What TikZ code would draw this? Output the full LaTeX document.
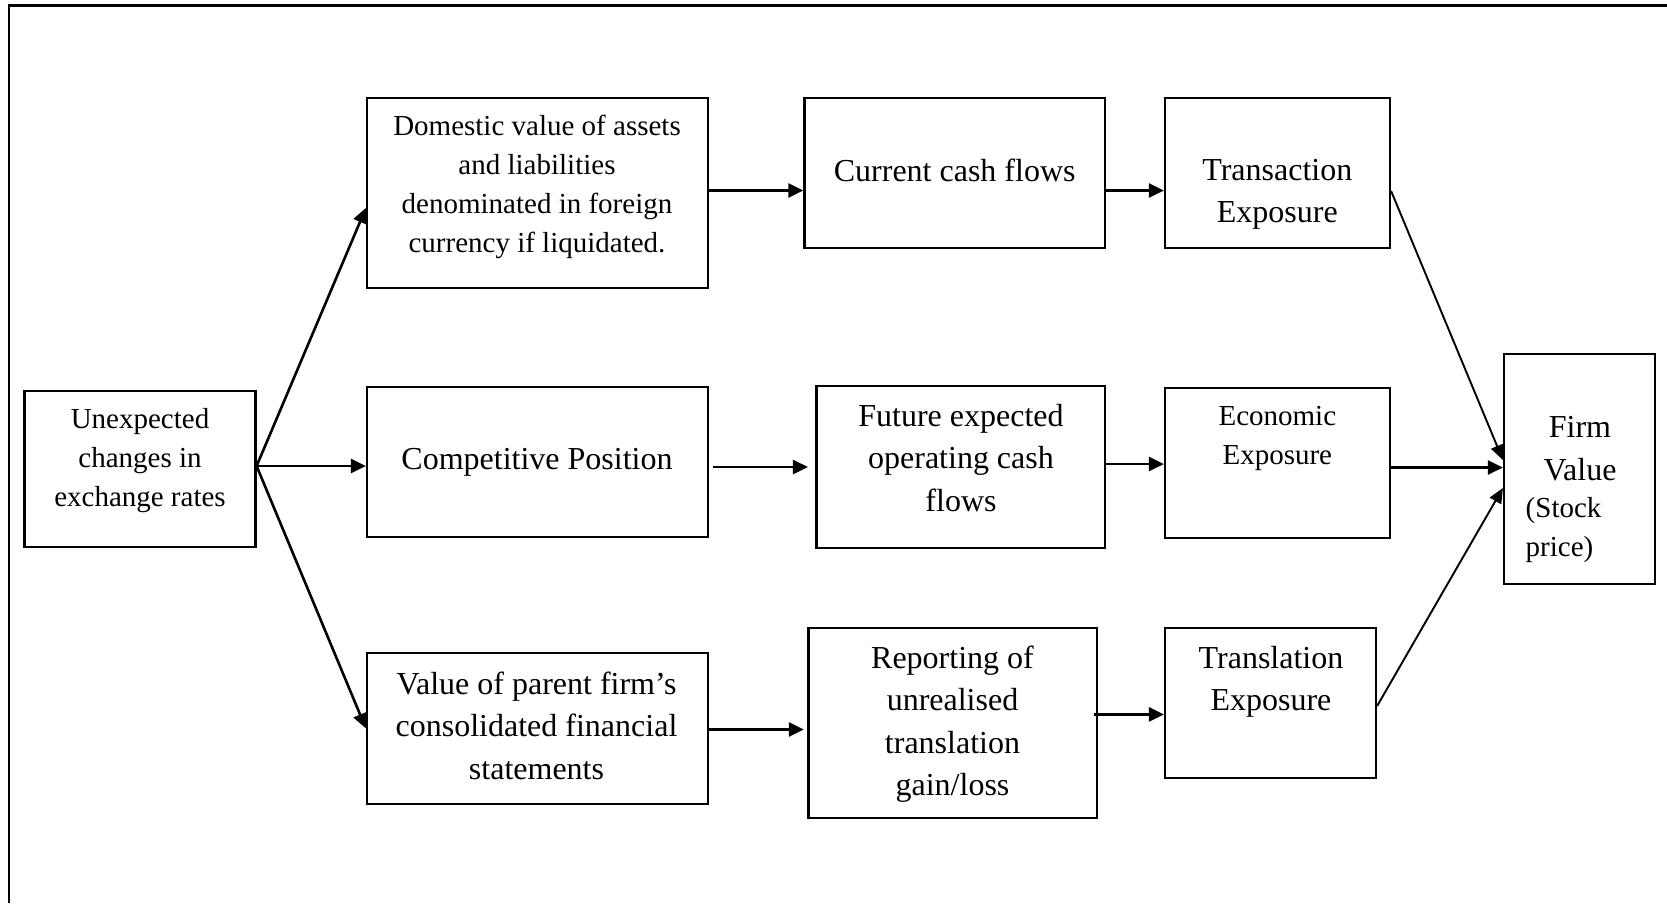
\documentclass[tikz,border=0pt]{standalone}
\usepackage{fontspec}
\setmainfont{Liberation Serif}
\usetikzlibrary{arrows.meta}
\begin{document}
\begin{tikzpicture}[x=1pt,y=-1pt,
  box/.style={draw, line width=2.2pt, inner sep=0pt},
  bigt/.style={align=center, font=\fontsize{32}{42.5}\selectfont, inner sep=0pt},
  smallt/.style={align=center, font=\fontsize{29}{39}\selectfont, inner sep=0pt},
  arr/.style={line width=2.6pt, -{Triangle[length=15pt,width=14pt]}},
  thinarr/.style={line width=1.9pt, -{Triangle[length=15pt,width=13pt]}}]
\useasboundingbox (0,0) rectangle (1667,903);
\draw[line width=2.6pt] (9,903) -- (9,5.5) -- (1667,5.5);

% boxes
\node[box, minimum width=231pt, minimum height=156pt] (unx) at (140,468.8) {};
\node[box, minimum width=341pt, minimum height=190pt] (dom) at (537.5,193) {};
\node[box, minimum width=341pt, minimum height=150pt] (comp) at (537.5,461.8) {};
\node[box, minimum width=341pt, minimum height=151pt] (par) at (537.5,728.5) {};
\node[box, minimum width=300.5pt, minimum height=150pt] (cur) at (954.7,173) {};
\node[box, minimum width=288.5pt, minimum height=162pt] (fut) at (960.8,467) {};
\node[box, minimum width=288.5pt, minimum height=190pt] (rep) at (952.7,723) {};
\node[box, minimum width=225pt, minimum height=150pt] (tra) at (1277.5,173) {};
\node[box, minimum width=225pt, minimum height=150pt] (eco) at (1277.5,463) {};
\node[box, minimum width=211pt, minimum height=150pt] (trl) at (1270.5,703) {};
\node[box, minimum width=151pt, minimum height=230pt] (firm) at (1579.5,469) {};

% texts
\node[smallt] (unxt) at (140,461) {Unexpected\\changes in\\exchange rates};
\node[smallt] (domt) at (537,187) {Domestic value of assets\\and liabilities\\denominated in foreign\\currency if liquidated.};
\node[bigt] (compt) at (537,462) {Competitive Position};
\node[bigt] (part) at (536.5,725.7) {Value of parent firm’s\\consolidated financial\\statements};
\node[bigt] (curt) at (954.7,170) {Current cash flows};
\node[bigt] (futt) at (961,458) {Future expected\\operating cash\\flows};
\node[bigt] (rept) at (952.5,724.3) {Reporting of\\unrealised\\translation\\gain/loss};
\node[bigt] (trat) at (1277.3,194.4) {Transaction\\Exposure};
\node[smallt] (ecot) at (1277.3,438.3) {Economic\\Exposure};
\node[bigt] (trlt) at (1271,682) {Translation\\Exposure};
\node[bigt] (firmt) at (1580,448.5) {Firm\\Value};
\node[smallt, align=left, anchor=west] (stockt) at (1525.5,530) {(Stock\\price)};

% connectors
\coordinate (fan) at ([yshift=2.8pt]unx.east);
\draw[arr] (fan) -- ([yshift=-15pt]dom.west);
\draw[arr] (fan) -- ([yshift=-4.2pt]comp.west);
\draw[arr] (fan) -- (par.west);
\draw[arr] ([yshift=2.5pt]dom.east) -- ([yshift=-17.5pt]cur.west);
\draw[arr] ([yshift=-17.5pt]cur.east) -- ([yshift=-17.5pt]tra.west);
\draw[arr] ([xshift=4pt,yshift=-5.2pt]comp.east) -- ([xshift=-7.5pt]fut.west);
\draw[arr] ([yshift=3pt]fut.east) -- ([yshift=-1pt]eco.west);
\draw[arr] ([yshift=-4.5pt]eco.east) -- ([yshift=1.5pt]firm.west);
\draw[thinarr] ([yshift=-18pt]tra.east) -- ([yshift=9pt]firm.west);
\draw[thinarr] ([yshift=-3pt]trl.east) -- ([yshift=-19pt]firm.west);
\draw[arr] ([yshift=-1pt]par.east) -- ([xshift=-3.5pt,yshift=-6.5pt]rep.west);
\draw[arr] ([xshift=-4pt,yshift=8.6pt]rep.east) -- ([yshift=-11.4pt]trl.west);
\end{tikzpicture}
\end{document}
